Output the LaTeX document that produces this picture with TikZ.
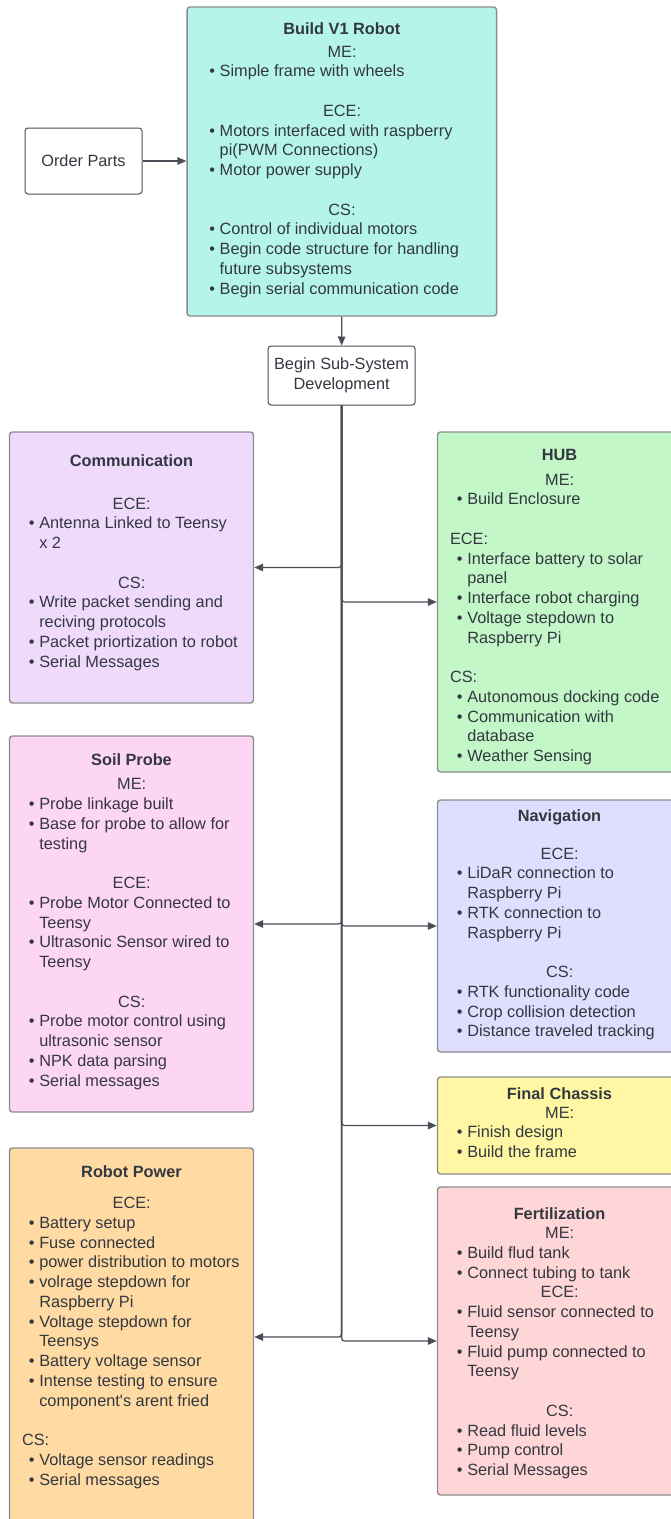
\documentclass[tikz,border=0pt]{standalone}
\usepackage{fontspec}
\setmainfont{Liberation Sans}
\usetikzlibrary{arrows.meta}

% palette
\definecolor{txt}{HTML}{333840}
\definecolor{edge}{HTML}{8C8C8C}
\definecolor{wire}{HTML}{4A4F57}
\definecolor{mint}{HTML}{B5F4EB}
\definecolor{lilac}{HTML}{F0DAFC}
\definecolor{leaf}{HTML}{C3F7C8}
\definecolor{rose}{HTML}{FED6F5}
\definecolor{periw}{HTML}{DEDEFF}
\definecolor{lemon}{HTML}{FFF7A3}
\definecolor{peach}{HTML}{FFDBA3}
\definecolor{blush}{HTML}{FFD6D7}

% list layout inside the task boxes
\newlength\bulletoff \setlength\bulletoff{19.2pt}
\newlength\bulletw   \setlength\bulletw{10.4pt}
\newlength\headoff   \setlength\headoff{12.4pt}
\newcommand\chead[1]{\par{\centering #1\par}}
\newcommand\lhead[1]{\par{\leftskip=\headoff\rightskip=0pt plus 1fil\noindent #1\par}}
\newcommand\bitem[1]{\par{\leftskip=\bulletoff\rightskip=0pt plus 1fil\parfillskip=0pt plus 1fil%
  \hangindent=\bulletw\hangafter=1\noindent\makebox[\bulletw][l]{•}#1\par}}
\newcommand\skipline{\par\vspace{19.75pt}}
\newcommand\tasklist[2]{\parbox[t]{#1}{\fontsize{16.3}{19.75}\selectfont#2}}

\tikzset{
  x=1pt, y=-1pt,
  plainbox/.style={draw=wire, line width=1pt, rounded corners=3pt, fill=white,
    font=\fontsize{16.3}{19.75}\selectfont, text=txt, align=center, inner sep=0pt},
  taskbox/.style={draw=edge, line width=1.4pt, rounded corners=3pt, inner sep=0pt},
  boxtitle/.style={anchor=base, inner sep=0pt, text=txt, font=\fontsize{16.3}{19.75}\selectfont\bfseries},
  boxbody/.style={anchor=base west, inner sep=0pt, text=txt},
  conn/.style={draw=wire, line width=1.3pt, rounded corners=3pt,
    -{Triangle[length=9pt,width=7.5pt]}},
}

\begin{document}
\begin{tikzpicture}
\useasboundingbox (0,0) rectangle (671,1519);
\clip (0,0) rectangle (671,1519);
\fill[white] (0,0) rectangle (671,1519);

% ---------- boxes ----------
\node[plainbox, minimum width=117pt, minimum height=66pt] (order) at (83.5,161) {Order Parts};
\node[taskbox, fill=mint, minimum width=309.5pt, minimum height=309pt] (build) at (341.8,161.5) {};
\node[plainbox, minimum width=147pt, minimum height=59pt] (begin) at (341.6,375.5) {Begin Sub-System\\Development};

\node[taskbox, fill=lilac, minimum width=244pt, minimum height=271pt] (comm) at (131.5,567.5) {};
\node[taskbox, fill=leaf,  minimum width=244pt, minimum height=340pt] (hub) at (559.5,602) {};
\node[taskbox, fill=rose,  minimum width=244pt, minimum height=376pt] (soil) at (131.5,924) {};
\node[taskbox, fill=periw, minimum width=244pt, minimum height=252pt] (nav) at (559.5,926) {};
\node[taskbox, fill=lemon, minimum width=244pt, minimum height=97pt] (chassis) at (559.5,1125.5) {};
\node[taskbox, fill=peach, minimum width=244pt, minimum height=378pt] (power) at (131.5,1337) {};
\node[taskbox, fill=blush, minimum width=244pt, minimum height=308pt] (fert) at (559.5,1341) {};

% ---------- Build V1 Robot ----------
\node[boxtitle] (buildtitle) at (341.8,34) {Build V1 Robot};
\node[boxbody] (buildbody) at (187.1,57) {\setlength\bulletoff{22pt}\tasklist{309.5pt}{%
  \chead{ME:}
  \bitem{Simple frame with wheels}
  \skipline
  \chead{ECE:}
  \bitem{Motors interfaced with raspberry\newline pi(PWM Connections)}
  \bitem{Motor power supply}
  \skipline
  \chead{CS:}
  \bitem{Control of individual motors}
  \bitem{Begin code structure for handling\newline future subsystems}
  \bitem{Begin serial communication code}}};

% ---------- Communication ----------
\node[boxtitle] (commtitle) at (131.5,466) {Communication};
\node[boxbody] (commbody) at (9.5,509) {\tasklist{244pt}{%
  \chead{ECE:}
  \bitem{Antenna Linked to Teensy\newline x 2}
  \skipline
  \chead{CS:}
  \bitem{Write packet sending and\newline reciving protocols}
  \bitem{Packet priortization to robot}
  \bitem{Serial Messages}}};

% ---------- HUB ----------
\node[boxtitle] (hubtitle) at (559.5,460) {HUB};
\node[boxbody] (hubbody) at (437.5,485) {\tasklist{244pt}{%
  \chead{ME:}
  \bitem{Build Enclosure}
  \skipline
  \lhead{ECE:}
  \bitem{Interface battery to solar\newline panel}
  \bitem{Interface robot charging}
  \bitem{Voltage stepdown to\newline Raspberry Pi}
  \skipline
  \lhead{CS:}
  \bitem{Autonomous docking code}
  \bitem{Communication with\newline database}
  \bitem{Weather Sensing}}};

% ---------- Soil Probe ----------
\node[boxtitle] (soiltitle) at (131.5,765) {Soil Probe};
\node[boxbody] (soilbody) at (9.5,789.8) {\tasklist{244pt}{%
  \chead{ME:}
  \bitem{Probe linkage built}
  \bitem{Base for probe to allow for\newline testing}
  \skipline
  \chead{ECE:}
  \bitem{Probe Motor Connected to\newline Teensy}
  \bitem{Ultrasonic Sensor wired to\newline Teensy}
  \skipline
  \chead{CS:}
  \bitem{Probe motor control using\newline ultrasonic sensor}
  \bitem{NPK data parsing}
  \bitem{Serial messages}}};

% ---------- Navigation ----------
\node[boxtitle] (navtitle) at (559.5,821.7) {Navigation};
\node[boxbody] (navbody) at (437.5,859) {\tasklist{244pt}{%
  \chead{ECE:}
  \bitem{LiDaR connection to\newline Raspberry Pi}
  \bitem{RTK connection to\newline Raspberry Pi}
  \skipline
  \chead{CS:}
  \bitem{RTK functionality code}
  \bitem{Crop collision detection}
  \bitem{Distance traveled tracking}}};

% ---------- Final Chassis ----------
\node[boxtitle] (chassistitle) at (559.5,1099) {Final Chassis};
\node[boxbody] (chassisbody) at (437.5,1118) {\tasklist{244pt}{%
  \chead{ME:}
  \bitem{Finish design}
  \bitem{Build the frame}}};

% ---------- Robot Power ----------
\node[boxtitle] (powertitle) at (131.5,1177.3) {Robot Power};
\node[boxbody] (powerbody) at (9.5,1208.7) {\tasklist{244pt}{%
  \chead{ECE:}
  \bitem{Battery setup}
  \bitem{Fuse connected}
  \bitem{power distribution to motors}
  \bitem{volrage stepdown for\newline Raspberry Pi}
  \bitem{Voltage stepdown for\newline Teensys}
  \bitem{Battery voltage sensor}
  \bitem{Intense testing to ensure\newline component\textquotesingle s arent fried}
  \skipline
  \lhead{CS:}
  \bitem{Voltage sensor readings}
  \bitem{Serial messages}}};

% ---------- Fertilization ----------
\node[boxtitle] (ferttitle) at (559.5,1219.7) {Fertilization};
\node[boxbody] (fertbody) at (437.5,1238.7) {\tasklist{244pt}{%
  \chead{ME:}
  \bitem{Build flud tank}
  \bitem{Connect tubing to tank}
  \chead{ECE:}
  \bitem{Fluid sensor connected to\newline Teensy}
  \bitem{Fluid pump connected to\newline Teensy}
  \skipline
  \chead{CS:}
  \bitem{Read fluid levels}
  \bitem{Pump control}
  \bitem{Serial Messages}}};

% ---------- connectors ----------
\draw[conn] (order.east) -- (order.east -| build.west);
\draw[conn] (build.south) -- (begin.north);
\draw[conn] (begin.south) |- (comm.east);
\draw[conn] (begin.south) |- (hub.west);
\draw[conn] (begin.south) |- (soil.east);
\draw[conn] (begin.south) |- (nav.west);
\draw[conn] (begin.south) |- (chassis.west);
\draw[conn] (begin.south) |- (power.east);
\draw[conn] (begin.south) |- (fert.west);
\end{tikzpicture}
\end{document}
